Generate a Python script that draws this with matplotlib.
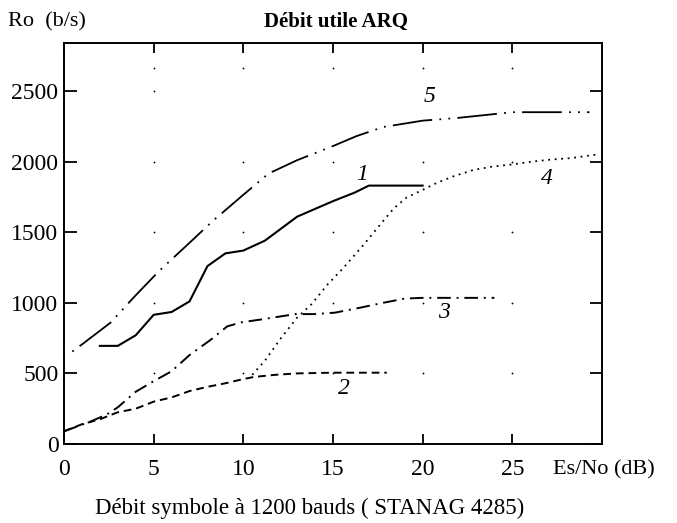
import matplotlib
matplotlib.use('Agg')
import matplotlib.pyplot as plt

plt.rcParams['font.family'] = ['Liberation Serif', 'DejaVu Serif']

# curves (Es/No in dB, Ro in b/s)
x1 = [2, 3, 4, 5, 6, 7, 8, 9, 10, 11.2, 13, 15, 16.2, 17, 20]
y1 = [695, 695, 770, 915, 935, 1010, 1260, 1350, 1370, 1440, 1610, 1720, 1780, 1830, 1830]

x2 = [0, 1, 2, 3, 4, 5, 6, 7, 8, 9, 10, 10.6, 11.8, 13, 15, 18]
y2 = [90, 140, 175, 225, 250, 300, 330, 375, 405, 430, 460, 475, 490, 500, 505, 505]

x3 = [0, 1.5, 2.4, 3, 4, 5, 6, 7, 8.2, 9.1, 9.9, 11, 12.9, 14, 15.1, 16.5, 17.8, 19, 20, 24]
y3 = [90, 160, 210, 260, 370, 445, 515, 630, 740, 833, 862, 882, 920, 920, 930, 965, 1000, 1030, 1035, 1035]

x4 = [10.5, 11.2, 12.1, 13, 13.8, 14.7, 15.6, 16.7, 17.8, 18.4, 19.1, 20, 20.8, 21.7, 22.8, 23.9, 25, 26.1, 27.2, 28.3, 29.7]
y4 = [490, 590, 750, 895, 990, 1130, 1250, 1410, 1580, 1670, 1745, 1800, 1850, 1895, 1940, 1965, 1980, 2000, 2015, 2025, 2050]

x5 = [0.3, 1, 2.6, 3.9, 5.3, 7, 8.3, 10, 11.4, 13, 15, 16.3, 17.8, 20, 22, 25, 29.3]
y5 = [640, 705, 860, 1040, 1225, 1425, 1580, 1765, 1915, 2010, 2110, 2180, 2245, 2290, 2310, 2350, 2350]

curve_labels = ['1', '2', '3', '4', '5']
label_x = [16.6, 15.6, 21.2, 26.9, 20.4]
label_y = [1910, 390, 930, 1880, 2460]

xticks = [0, 5, 10, 15, 20, 25]
yticks = [0, 500, 1000, 1500, 2000, 2500]

fig = plt.figure(figsize=(6.77, 5.23), dpi=100)
ax = fig.add_axes([64/677, 1 - 444/523, (602-64)/677, (444-43)/523])

ax.plot(x1, y1, color='black', lw=1.5, ls='-')
ax.plot(x2, y2, color='black', lw=1.4, ls=(0, (4, 2.5)))
ax.plot(x3, y3, color='black', lw=1.4, ls=(0, (7, 3, 1, 3)))
ax.plot(x4, y4, color='black', lw=1.3, ls=(0, (1, 2.6)))
ax.plot(x5, y5, color='black', lw=1.3, ls=(29, (22, 4, 1, 4, 1, 4)))

for t, lx, ly in zip(curve_labels, label_x, label_y):
    ax.text(lx, ly, t, fontsize=17, style='italic', ha='center', va='center')

# faint grid dots at the tick crossings
for gx in xticks[1:]:
    for gy in yticks[1:5] + [2660]:
        ax.plot(gx, gy, 'o', color='black', ms=1.3, mew=0)
ax.plot(5, 2500, 'o', color='black', ms=1.3, mew=0)

ax.set_xlim(0, 30)
ax.set_ylim(0, 2840)
ax.set_xticks(xticks)
ax.set_yticks(yticks)
ax.tick_params(axis='both', direction='in', top=True, right=True, width=1.3, labelsize=17)
ax.tick_params(axis='y', length=9, pad=4)
ax.tick_params(axis='x', length=7, pad=11)
for s in ax.spines.values():
    s.set_linewidth(1.4)

fig.text(8/677, 1 - 22/523, 'Ro  (b/s)', fontsize=16, ha='left', va='center')
fig.text(336/677, 1 - 22/523, 'Débit utile ARQ', fontsize=15, fontweight='bold', ha='center', va='center')
fig.text(553/677, 1 - 470/523, 'Es/No (dB)', fontsize=16, ha='left', va='center')
fig.text(310/677, 1 - 508/523, 'Débit symbole à 1200 bauds ( STANAG 4285)', fontsize=16.5, ha='center', va='center')

fig.savefig('out.png', dpi=100)
